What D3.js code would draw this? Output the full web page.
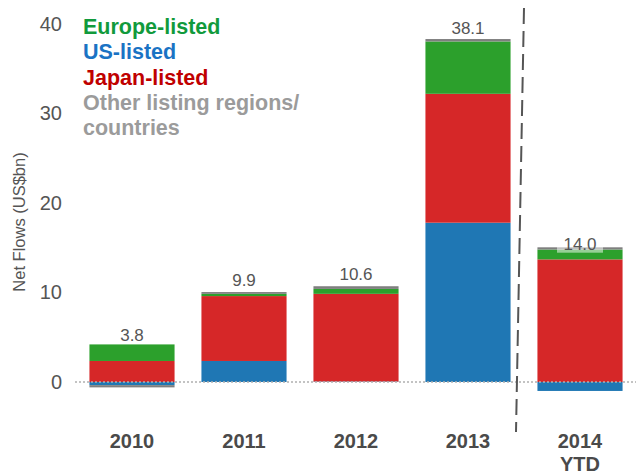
<!DOCTYPE html>
<html lang="en">
<head>
<meta charset="utf-8">
<title>Net Flows by listing region</title>
<style>
body{
  margin: 0;
  background: #fff;
}
svg text{
  font-family: "Liberation Sans", Arial, Helvetica, sans-serif;
}
.axis path, .axis line{
  display: none;
}
.axis text{
  fill: #555;
  font-size: 20px;
}
</style>
<script src="https://d3js.org/d3.v7.min.js"></script>
</head>
<body>
<div id="chart"></div>
<script>

/* data */
var years = ['2010', '2011', '2012', '2013', '2014 YTD'];
var usListed     = [-0.35, 2.35, 0.05, 17.8, -1.0];
var japanListed  = [2.35, 7.25, 9.8, 14.4, 13.7];
var europeListed = [1.85, 0.25, 0.55, 5.85, 1.1];
var otherListed  = [-0.25, 0.2, 0.3, 0.27, 0.25];
var totals = [3.8, 9.9, 10.6, 38.1, 14.0];
var yTicks = [0, 10, 20, 30, 40];

var keys = ['us', 'japan', 'europe', 'other'];
var barColors = { us: '#1f77b4', japan: '#d62728', europe: '#2ca02c', other: '#7f7f7f' };
var legend = [
  { text: 'Europe-listed', color: '#119a3c' },
  { text: 'US-listed', color: '#1a73c4' },
  { text: 'Japan-listed', color: '#c00000' },
  { text: 'Other listing regions/', color: '#9b9b9b' },
  { text: 'countries', color: '#9b9b9b' }
];

var rows = years.map(function(y, i) {
  return { year: y, us: usListed[i], japan: japanListed[i], europe: europeListed[i], other: otherListed[i] };
});

var width = 636, height = 472;

var svg = d3.select('#chart').append('svg')
  .attr('width', width)
  .attr('height', height);

var x = d3.scaleBand()
  .domain(years)
  .range([76, 636])
  .paddingInner(0.24)
  .paddingOuter(0.12);

var y = d3.scaleLinear()
  .domain([0, 40])
  .range([382, 24]);

/* y axis, labels only */
svg.append('g')
  .attr('class', 'axis')
  .attr('transform', 'translate(66,0)')
  .call(d3.axisLeft(y).tickValues(yTicks).tickSize(0).tickPadding(4));

svg.append('text')
  .attr('transform', 'translate(25,' + 222 + ') rotate(-90)')
  .attr('text-anchor', 'middle')
  .style('font-size', '16.5px')
  .style('fill', '#555')
  .text('Net Flows (US$bn)');

/* stacked bars */
var stack = d3.stack().keys(keys).offset(d3.stackOffsetDiverging);
var series = stack(rows);

svg.append('g')
  .selectAll('g')
  .data(series)
  .enter().append('g')
  .attr('fill', function(d) { return barColors[d.key]; })
  .selectAll('rect')
  .data(function(d) { return d; })
  .enter().append('rect')
  .attr('x', function(d) { return x(d.data.year); })
  .attr('width', x.bandwidth())
  .attr('y', function(d) { return y(Math.max(d[0], d[1])); })
  .attr('height', function(d) { return Math.abs(y(d[0]) - y(d[1])); });

/* zero line */
svg.append('line')
  .attr('x1', 75).attr('x2', width)
  .attr('y1', y(0)).attr('y2', y(0))
  .style('stroke', '#b0b0b0')
  .style('stroke-width', 1.5)
  .style('stroke-dasharray', '2,2');

/* total labels */
var labels = svg.append('g').selectAll('g')
  .data(totals)
  .enter().append('g')
  .attr('transform', function(d, i) {
    return 'translate(' + (x(years[i]) + x.bandwidth() / 2) + ',' + (y(d) - 7) + ')';
  });

labels.append('rect')
  .attr('x', -23).attr('width', 46)
  .attr('y', -14).attr('height', 17)
  .style('fill', '#fff')
  .style('opacity', 0.5);

labels.append('text')
  .attr('text-anchor', 'middle')
  .style('font-size', '17px')
  .style('fill', '#555')
  .text(function(d) { return d.toFixed(1); });

/* separator between full years and YTD */
var sepX = (x('2013') + x.bandwidth() + x('2014 YTD')) / 2;
svg.append('line')
  .attr('x1', sepX).attr('y1', 8)
  .attr('x2', sepX - 8).attr('y2', 432)
  .style('stroke', '#555')
  .style('stroke-width', 2)
  .style('stroke-dasharray', '16,7');

/* category labels */
var xl = svg.append('g').selectAll('text')
  .data(years)
  .enter().append('text')
  .attr('text-anchor', 'middle')
  .attr('y', 448)
  .style('font-size', '20px')
  .style('font-weight', 'bold')
  .style('fill', '#4a4a4a');

xl.selectAll('tspan')
  .data(function(d) { return d.split(' '); })
  .enter().append('tspan')
  .attr('x', function() { var p = d3.select(this.parentNode).datum(); return x(p) + x.bandwidth() / 2; })
  .attr('dy', function(d, i) { return i ? 23 : 0; })
  .text(function(d) { return d; });

/* legend */
svg.append('g').selectAll('text')
  .data(legend)
  .enter().append('text')
  .attr('x', 83)
  .attr('y', function(d, i) { return 34 + i * 25.3; })
  .style('font-size', '21.5px')
  .style('font-weight', 'bold')
  .style('fill', function(d) { return d.color; })
  .text(function(d) { return d.text; });

</script>
</body>
</html>
